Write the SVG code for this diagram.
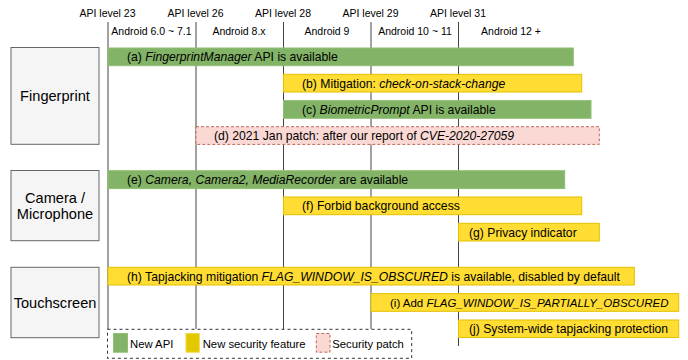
<svg xmlns="http://www.w3.org/2000/svg" width="688" height="360" viewBox="0 0 688 360">
<style>
text{font-family:"Liberation Sans",Arial,Helvetica,sans-serif;fill:#000}
.hdr{font-size:10.5px;text-anchor:middle}
.cat{font-size:14.6px;text-anchor:middle}
.bt{font-size:12.2px}
.lg{font-size:11.3px}
.it{font-style:italic}
.catbox{fill:#f5f5f5;stroke:#666;stroke-width:1}
.api{fill:#82b366;stroke:#8fbf72;stroke-width:1}
.sec{fill:#ffdd33;stroke:#e3c000;stroke-width:1}
.pat{fill:#fad9d5;stroke:#c0675c;stroke-width:1;stroke-dasharray:3 2}
.vl{stroke:#444;stroke-width:1;fill:none}
</style>
<rect width="688" height="360" fill="#fff"/>
<g id="header">
<text class="hdr" x="107.5" y="17">API level 23</text>
<text class="hdr" x="195.5" y="17">API level 26</text>
<text class="hdr" x="283" y="17">API level 28</text>
<text class="hdr" x="370.5" y="17">API level 29</text>
<text class="hdr" x="458" y="17">API level 31</text>
<text class="hdr" x="151.5" y="35">Android 6.0 ~ 7.1</text>
<text class="hdr" x="239" y="35">Android 8.x</text>
<text class="hdr" x="327" y="35">Android 9</text>
<text class="hdr" x="415" y="35">Android 10 ~ 11</text>
<text class="hdr" x="511" y="35">Android 12 +</text>
</g>
<g id="connectors">
<line class="vl" x1="108" y1="22" x2="108" y2="329"/>
<line class="vl" x1="196" y1="22" x2="196" y2="329"/>
<line class="vl" x1="283.5" y1="22" x2="283.5" y2="329"/>
<line class="vl" x1="371" y1="22" x2="371" y2="329"/>
<line class="vl" x1="458.5" y1="22" x2="458.5" y2="346"/>
</g>
<g id="cat-fingerprint">
<rect class="catbox" x="11" y="47.5" width="88" height="96.8"/>
<text class="cat" x="55" y="101">Fingerprint</text>
</g>
<g id="cat-camera">
<rect class="catbox" x="11" y="170.5" width="88" height="70.2"/>
<text class="cat" x="55" y="202.7">Camera /</text>
<text class="cat" x="55" y="219.3">Microphone</text>
</g>
<g id="cat-touch">
<rect class="catbox" x="11" y="267.3" width="88" height="70.4"/>
<text class="cat" x="55" y="307.8">Touchscreen</text>
</g>
<g id="bar-a">
<rect class="api" x="108" y="48" width="465.3" height="17.7"/>
<text class="bt" x="127" y="61.3">(a) <tspan class="it">FingerprintManager</tspan> API is available</text>
</g>
<g id="bar-b">
<rect class="sec" x="283.5" y="74.3" width="298.2" height="17.7"/>
<text class="bt" x="302" y="87.6">(b) Mitigation: <tspan class="it">check-on-stack-change</tspan></text>
</g>
<g id="bar-c">
<rect class="api" x="283.5" y="100.6" width="307.5" height="17.7"/>
<text class="bt" x="302" y="113.9">(c) <tspan class="it">BiometricPrompt</tspan> API is available</text>
</g>
<g id="bar-d">
<rect class="pat" x="196" y="126.7" width="403.3" height="17.7"/>
<text class="bt" x="214" y="140">(d) 2021 Jan patch: after our report of <tspan class="it">CVE-2020-27059</tspan></text>
</g>
<g id="bar-e">
<rect class="api" x="108" y="170.7" width="456.7" height="17.9"/>
<text class="bt" x="127" y="184">(e) <tspan class="it">Camera, Camera2, MediaRecorder</tspan> are available</text>
</g>
<g id="bar-f">
<rect class="sec" x="283.5" y="197" width="298.2" height="17.7"/>
<text class="bt" x="302" y="210.3">(f) Forbid background access</text>
</g>
<g id="bar-g">
<rect class="sec" x="458.5" y="223.3" width="140.8" height="17.7"/>
<text class="bt" x="469" y="236.6">(g) Privacy indicator</text>
</g>
<g id="bar-h">
<rect class="sec" x="108" y="267.3" width="526.3" height="17.7"/>
<text class="bt" x="127" y="280.6">(h) Tapjacking mitigation <tspan class="it">FLAG_WINDOW_IS_OBSCURED</tspan> is available, disabled by default</text>
</g>
<g id="bar-i">
<rect class="sec" x="371" y="293.6" width="307.7" height="17.7"/>
<text class="bt" x="390" y="306.8" style="font-size:11.5px">(i) Add <tspan class="it">FLAG_WINDOW_IS_PARTIALLY_OBSCURED</tspan></text>
</g>
<g id="bar-j">
<rect class="sec" x="458.5" y="320" width="220.2" height="17.5"/>
<text class="bt" x="469" y="333.2">(j) System-wide tapjacking protection</text>
</g>
<g id="legend">
<rect x="107.5" y="329.3" width="304.2" height="29" fill="#fff" stroke="#333" stroke-width="1" stroke-dasharray="3 3"/>
<rect x="113.5" y="333.5" width="14" height="18.7" fill="#82b366" stroke="#8fbf72"/>
<text class="lg" x="130" y="347.5">New API</text>
<rect x="186" y="333.5" width="13.3" height="18.7" fill="#e3c800" stroke="#f0d84a"/>
<text class="lg" x="202.7" y="347.5">New security feature</text>
<rect x="316.3" y="333.5" width="13.7" height="18.7" class="pat"/>
<text class="lg" x="332.3" y="347.5">Security patch</text>
</g>
</svg>
